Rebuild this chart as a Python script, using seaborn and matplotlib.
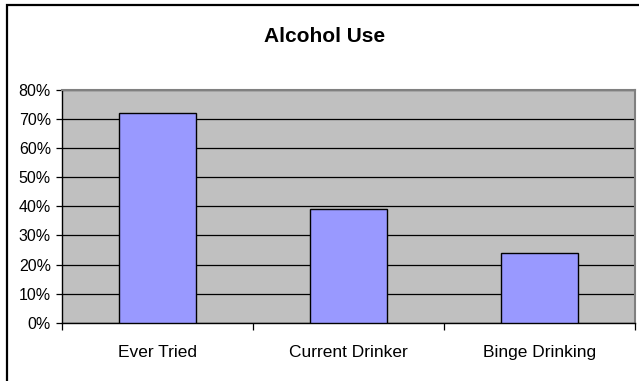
import matplotlib
matplotlib.use("Agg")
import matplotlib.pyplot as plt
from matplotlib.patches import Rectangle
from matplotlib.ticker import PercentFormatter, MultipleLocator, FixedLocator, NullFormatter
import seaborn as sns
import pandas as pd

categories = ["Ever Tried", "Current Drinker", "Binge Drinking"]
percentages = [72, 39, 24]

sns.set_style("white")
plt.rcParams["font.family"] = ["Liberation Sans", "DejaVu Sans"]
plt.rcParams["text.color"] = "black"

df = pd.DataFrame({"category": categories, "pct": percentages})

W, H = 639, 381
fig = plt.figure(figsize=(W / 100, H / 100), dpi=100)
fig.patch.set_facecolor("white")

# plot area in pixel coordinates
left, right, top, bottom = 62, 635, 90, 322.7
ax = fig.add_axes([left / W, 1 - bottom / H, (right - left) / W, (bottom - top) / H])
ax.set_facecolor("#C0C0C0")

sns.barplot(data=df, x="category", y="pct", color="#9999FF", saturation=1,
            edgecolor="black", linewidth=1.0, width=0.4, ax=ax, zorder=3)

ax.set_ylim(0, 80)
ax.set_xlim(-0.5, len(categories) - 0.5)
ax.yaxis.set_major_locator(MultipleLocator(10))
ax.yaxis.set_major_formatter(PercentFormatter(decimals=0))
ax.yaxis.grid(True, color="black", linewidth=0.9, zorder=1)
ax.set_axisbelow(True)

# category labels centred, tick marks on category boundaries
ax.xaxis.set_major_locator(FixedLocator(range(len(categories))))
ax.set_xticklabels(categories)
ax.xaxis.set_minor_locator(FixedLocator([i - 0.5 for i in range(len(categories) + 1)]))
ax.xaxis.set_minor_formatter(NullFormatter())
ax.tick_params(axis="x", which="major", length=0, pad=16, labelsize=12.5,
               colors="black", labelcolor="black")
ax.tick_params(axis="x", which="minor", length=5, width=0.9, direction="out", color="black", bottom=True)
ax.tick_params(axis="y", which="major", length=4, width=0.9, direction="out", pad=4,
               labelsize=11.5, colors="black", labelcolor="black", left=True)

ax.set_xlabel("")
ax.set_ylabel("")

for side in ("left", "bottom"):
    ax.spines[side].set_color("black")
    ax.spines[side].set_linewidth(1.0)
for side in ("top", "right"):
    ax.spines[side].set_visible(True)
    ax.spines[side].set_color("#808080")
    ax.spines[side].set_linewidth(1.5)

fig.text(325 / W, 1 - 36 / H, "Alcohol Use", ha="center", va="center",
         fontsize=15, fontweight="bold", color="black")

# chart border
fig.patches.append(Rectangle((7 / W, -0.1), 1.2, 1.1 - 5 / H, transform=fig.transFigure,
                             fill=False, edgecolor="black", linewidth=1.6))

fig.savefig("out.png", dpi=100)
